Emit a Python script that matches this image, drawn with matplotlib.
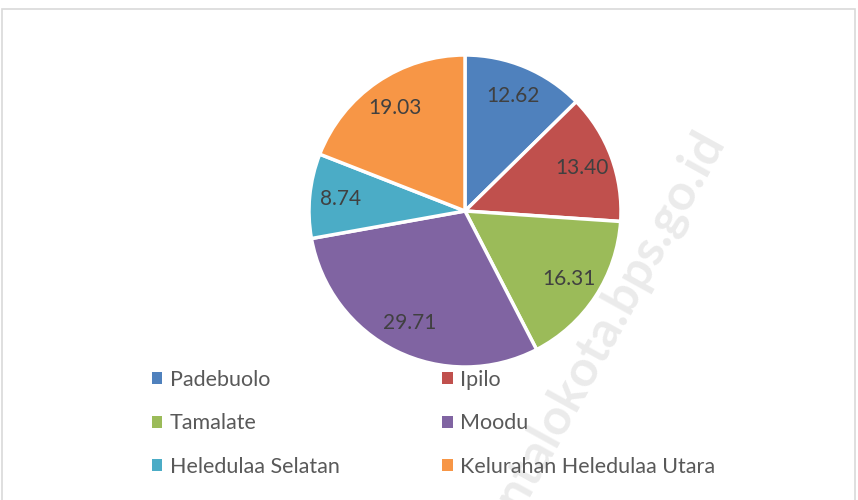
import matplotlib.pyplot as plt
from matplotlib.patches import Patch, Rectangle

names = ['Padebuolo', 'Ipilo', 'Tamalate', 'Moodu', 'Heledulaa Selatan', 'Kelurahan Heledulaa Utara']
values = [12.62, 13.40, 16.31, 29.71, 8.74, 19.03]
colors = ['#4f81bd', '#c0504d', '#9bbb59', '#8064a2', '#4bacc6', '#f79646']

total = sum(values)
plt.rcParams['font.family'] = ['Lato', 'DejaVu Sans']

fig = plt.figure(figsize=(8.58, 5.0), dpi=100)

# frame around the chart area
fig.patches.append(Rectangle((2 / 858, -0.01), 853 / 858, 496 / 500, transform=fig.transFigure,
                             fill=False, edgecolor='#d9d9d9', linewidth=1.2))

ax = fig.add_axes([(465 - 156) / 858, (500 - 367) / 500, 312 / 858, 312 / 500])
wedges, texts, autotexts = ax.pie(values, colors=colors, startangle=90, counterclock=False,
                                  autopct=lambda p: f'{p * total / 100:.2f}', pctdistance=0.8,
                                  wedgeprops=dict(edgecolor='white', linewidth=2.5))
for t in autotexts:
    t.set_fontsize(15)
    t.set_color('#404040')
ax.set_xlim(-1, 1)
ax.set_ylim(-1, 1)
ax.set_aspect('equal')

# legend fills row by row in the reference
order = [0, 2, 4, 1, 3, 5]
handles = [Patch(facecolor=colors[i], edgecolor='none') for i in order]
labels = [names[i] for i in order]
leg = fig.legend(handles, labels, ncol=2, loc='upper left', bbox_to_anchor=(143 / 858, 1 - 361 / 500),
                 frameon=False, fontsize=15.5, handlelength=0.5, handleheight=0.5, handletextpad=0.35,
                 columnspacing=4.75, labelspacing=1.1, borderaxespad=0)
for t in leg.get_texts():
    t.set_color('#595959')

# watermark
fig.text(726 / 858, 1 - 142 / 500, 'gorontalokota.bps.go.id', rotation=61, rotation_mode='anchor',
         ha='right', va='baseline', fontsize=36, fontweight='bold', color='#707070', alpha=0.14,
         zorder=5)

fig.savefig('out.png', dpi=100)
